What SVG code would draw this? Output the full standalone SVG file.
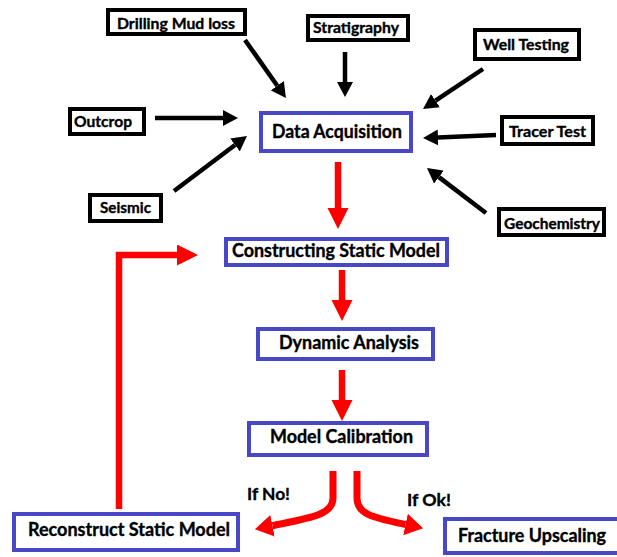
<svg xmlns="http://www.w3.org/2000/svg" width="617" height="557" viewBox="0 0 617 557">
  <style>
    .src rect { fill: #ffffff; stroke: #000000; stroke-width: 4; }
    .step rect { fill: #ffffff; stroke: #4747c8; stroke-width: 4; }
    text { font-family: Lato, "Liberation Sans", sans-serif; font-weight: bold; fill: #000000; stroke: #000000; stroke-width: 0.35; }
    .src text { font-size: 15.5px; }
    .step text { font-size: 18px; }
    .lbl { font-size: 17.5px; }
    .blk { stroke: #000000; stroke-width: 4.5; fill: none; marker-end: url(#headBlack); }
    .red { stroke: #ff0000; stroke-width: 6.5; fill: none; marker-end: url(#headRed); }
    .redc { stroke: #ff0000; stroke-width: 7; fill: none; marker-end: url(#headRedCurve); }
  </style>
  <defs>
    <marker id="headBlack" markerUnits="userSpaceOnUse" markerWidth="16" markerHeight="16" refX="0" refY="8" orient="auto">
      <path d="M0,0 L15,8 L0,16 Z" fill="#000000"/>
    </marker>
    <marker id="headRed" markerUnits="userSpaceOnUse" markerWidth="21" markerHeight="22" refX="0" refY="10.5" orient="auto">
      <path d="M0,0 L21,10.5 L0,21 Z" fill="#ff0000"/>
    </marker>
    <marker id="headRedCurve" markerUnits="userSpaceOnUse" markerWidth="19" markerHeight="23" refX="0" refY="11" orient="auto">
      <path d="M0,0 L18,11 L0,22 Z" fill="#ff0000"/>
    </marker>
  </defs>

  <rect width="617" height="557" fill="#ffffff"/>

  <!-- connectors -->
  <g id="connectors">
    <line class="blk" x1="245" y1="40" x2="277.3" y2="85.7"/>
    <line class="blk" x1="345" y1="52" x2="345" y2="82"/>
    <line class="blk" x1="483" y1="69" x2="435.5" y2="100.7"/>
    <line class="blk" x1="496" y1="135" x2="438" y2="137.4"/>
    <line class="blk" x1="486" y1="213" x2="438.9" y2="177.1"/>
    <line class="blk" x1="155" y1="118" x2="223" y2="118"/>
    <line class="blk" x1="174" y1="191" x2="235" y2="145"/>

    <line class="red" x1="338" y1="162" x2="338" y2="208"/>
    <line class="red" x1="342" y1="270" x2="342" y2="300"/>
    <line class="red" x1="342" y1="370" x2="342" y2="400"/>
    <path class="red" d="M119,509 L119,255 L177,255"/>

    <path class="redc" d="M333,471 L333,498 C333,515 310,518 272.5,525.7"/>
    <path class="redc" d="M357,471 L357,498 C357,515 375,518 405.5,524.5"/>
  </g>

  <text class="lbl" x="247" y="500" textLength="43" lengthAdjust="spacingAndGlyphs">If No!</text>
  <text class="lbl" x="407" y="506" textLength="44" lengthAdjust="spacingAndGlyphs">If Ok!</text>

  <!-- data sources -->
  <g id="drilling-mud-loss" class="src">
    <rect x="108" y="10" width="137" height="24"/>
    <text x="117" y="29" textLength="118" lengthAdjust="spacingAndGlyphs">Drilling Mud loss</text>
  </g>
  <g id="stratigraphy" class="src">
    <rect x="308" y="16" width="100" height="24"/>
    <text x="313" y="33" textLength="86" lengthAdjust="spacingAndGlyphs">Stratigraphy</text>
  </g>
  <g id="well-testing" class="src">
    <rect x="475" y="30" width="104" height="29"/>
    <text x="483" y="50" textLength="86" lengthAdjust="spacingAndGlyphs">Well Testing</text>
  </g>
  <g id="tracer-test" class="src">
    <rect x="502" y="117" width="91" height="27"/>
    <text x="509" y="137" textLength="77" lengthAdjust="spacingAndGlyphs">Tracer Test</text>
  </g>
  <g id="geochemistry" class="src">
    <rect x="499" y="209" width="105" height="26"/>
    <text x="504" y="229" textLength="96" lengthAdjust="spacingAndGlyphs">Geochemistry</text>
  </g>
  <g id="outcrop" class="src">
    <rect x="70" y="109" width="74" height="25"/>
    <text x="74" y="127" textLength="58" lengthAdjust="spacingAndGlyphs">Outcrop</text>
  </g>
  <g id="seismic" class="src">
    <rect x="90" y="195" width="71" height="26"/>
    <text x="100" y="213" textLength="51" lengthAdjust="spacingAndGlyphs">Seismic</text>
  </g>

  <!-- workflow steps -->
  <g id="data-acquisition" class="step">
    <rect x="261" y="113" width="150" height="38"/>
    <text x="272" y="138" textLength="130" lengthAdjust="spacingAndGlyphs">Data Acquisition</text>
  </g>
  <g id="constructing-static-model" class="step">
    <rect x="226" y="239" width="221" height="26"/>
    <text x="232" y="257" textLength="208" lengthAdjust="spacingAndGlyphs">Constructing Static Model</text>
  </g>
  <g id="dynamic-analysis" class="step">
    <rect x="258" y="329" width="175" height="30"/>
    <text x="279" y="349" textLength="140" lengthAdjust="spacingAndGlyphs">Dynamic Analysis</text>
  </g>
  <g id="model-calibration" class="step">
    <rect x="249" y="423" width="178" height="32"/>
    <text x="270" y="443" textLength="143" lengthAdjust="spacingAndGlyphs">Model Calibration</text>
  </g>
  <g id="reconstruct-static-model" class="step">
    <rect x="14" y="514" width="224" height="36"/>
    <text x="28" y="536" textLength="202" lengthAdjust="spacingAndGlyphs">Reconstruct Static Model</text>
  </g>
  <g id="fracture-upscaling" class="step">
    <rect x="445" y="519" width="180" height="34"/>
    <text x="458" y="542" textLength="148" lengthAdjust="spacingAndGlyphs">Fracture Upscaling</text>
  </g>
</svg>
